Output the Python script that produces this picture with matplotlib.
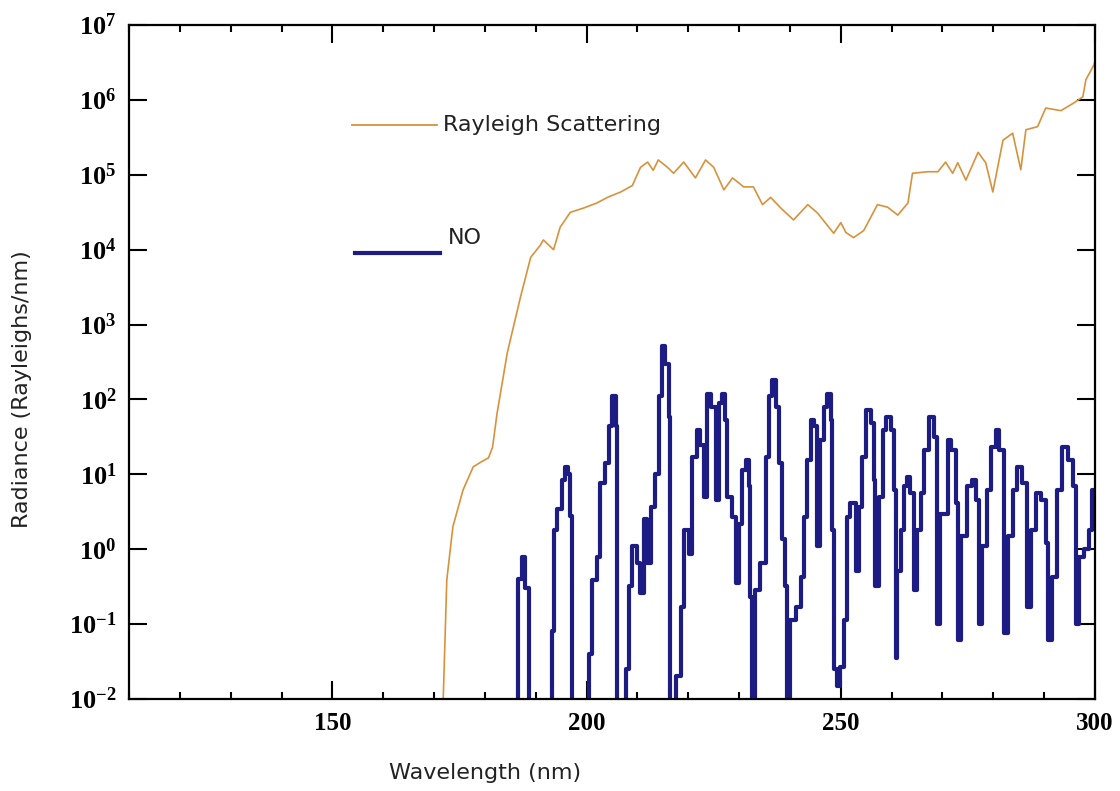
import matplotlib
matplotlib.use("Agg")
import matplotlib.pyplot as plt
from matplotlib.ticker import MultipleLocator, NullLocator

# Rayleigh scattering radiance (Rayleighs/nm)
rayleigh_wl = [171.5, 171.8, 172.5, 173.7, 175.7, 177.7, 179.5, 180.7, 181.5, 182.4,
               184.4, 187.0, 189.0, 190.9, 191.5, 193.5, 194.8, 196.8, 199.4, 202.0,
               204.1, 206.7, 209.0, 210.6, 212.0, 213.1, 214.1, 215.9, 217.1, 219.1,
               221.4, 223.4, 225.0, 227.0, 228.7, 230.9, 232.8, 234.6, 236.2, 238.2,
               240.7, 243.5, 245.4, 246.5, 248.6, 250.0, 251.0, 252.5, 254.5, 257.2,
               259.2, 261.2, 263.2, 264.1, 267.1, 269.1, 270.6, 272.0, 273.0, 274.6,
               277.0, 278.5, 279.9, 281.9, 283.8, 285.4, 286.4, 288.7, 290.3, 293.3,
               295.8, 297.6, 298.2, 299.8, 300.0]
rayleigh_rad = [1e-3, 0.01, 0.39, 2.0, 6.2, 12.6, 15, 16.6, 23, 66,
                420, 2340, 7900, 11500, 13500, 10000, 20000, 31600, 36000, 42000,
                50000, 59000, 72000, 126000, 148000, 115000, 158000, 126000, 105000, 148000,
                91000, 158000, 126000, 63000, 91000, 69000, 69000, 40000, 50000, 36000,
                25000, 40000, 31000, 25000, 16600, 23000, 17000, 14500, 18000, 40000,
                37000, 29000, 42000, 105000, 110000, 110000, 148000, 105000, 145000, 85000,
                200000, 145000, 59000, 290000, 360000, 117000, 400000, 440000, 780000, 720000,
                910000, 1100000, 1860000, 2950000, 3300000]

# NO emission radiance (Rayleighs/nm); 1e-3 marks values below the axis floor
no_wl = [186.0, 186.6, 187.2, 187.9, 188.6,
         193.2, 193.5, 194.2, 195.2, 195.8, 196.3, 196.8, 197.1,
         200.4, 201.1, 202.1, 202.7, 203.7, 204.4, 205.0, 205.7, 206.0,
         207.8, 208.3, 208.95, 209.9, 210.6, 211.2, 211.9, 212.6, 213.5, 214.2,
         214.9, 215.5, 216.2, 216.5,
         217.5, 218.5, 219.1, 220.1, 220.8, 221.7, 222.4, 223.1, 223.7, 224.4,
         225.4, 226.0, 226.7, 227.3, 227.6, 228.6, 229.3, 229.9, 230.6, 231.3,
         231.9, 232.2, 232.6, 233.2, 234.2, 235.2, 235.9, 236.5, 237.2, 237.8,
         238.5, 239.1, 239.5, 240.1, 241.1, 242.1, 242.7, 243.4, 244.1, 244.7,
         245.4, 246.0, 246.7, 247.3, 248.0, 248.3, 248.6, 249.3, 249.9, 250.6,
         251.3, 251.9, 252.9, 253.6, 254.2, 254.9, 255.9, 256.5, 256.8, 257.5,
         258.2, 258.8, 259.8, 260.5, 260.8, 261.1, 261.8, 262.4, 263.1, 263.7,
         264.4, 265.0, 265.7, 266.4, 267.3, 268.3, 269.0, 269.6, 271.0, 271.6,
         272.6, 273.1, 273.6, 274.9, 275.9, 276.5, 277.2, 277.8, 278.8, 279.5,
         280.5, 281.1, 282.1, 282.8, 283.8, 284.7, 285.7, 286.6, 287.4, 288.3,
         289.3, 290.3, 290.8, 291.6, 292.6, 293.6, 294.6, 295.6, 296.2, 296.9,
         297.9, 298.8, 299.5, 300.2]
no_rad = [1e-3, 0.4, 0.8, 0.3, 1e-3,
          0.08, 1.8, 3.4, 8.5, 12.6, 10, 2.8, 1e-3,
          0.04, 0.39, 0.8, 7.6, 14, 44, 110, 44, 1e-3,
          0.025, 0.32, 1.1, 0.65, 0.26, 2.5, 0.65, 3.7, 10, 110,
          510, 300, 59, 1e-3,
          0.02, 0.17, 1.8, 0.87, 17, 39, 25, 5, 120, 80,
          4.6, 89, 120, 54, 5, 2.7, 0.35, 2.2, 11.5, 15.5,
          6.9, 0.23, 1e-3, 0.29, 0.65, 17, 110, 180, 80, 14,
          1.35, 0.32, 1e-3, 0.115, 0.17, 0.43, 2.7, 15.5, 54, 44,
          1.1, 29, 80, 120, 54, 1.8, 0.025, 0.015, 0.027, 0.115,
          2.7, 4.1, 0.52, 3.7, 17, 72, 48, 8.5, 0.32, 5,
          39, 59, 39, 6.2, 0.035, 0.52, 1.8, 6.9, 9.3, 5.6,
          0.29, 1.8, 5.6, 21, 59, 32, 0.1, 3, 29, 21,
          4.1, 0.062, 1.5, 6.9, 8.5, 4.6, 0.1, 1.1, 6.2, 23,
          39, 21, 0.076, 1.5, 6.2, 12.6, 7.6, 0.17, 1.8, 5.6,
          4.6, 1.2, 0.062, 0.43, 6.2, 23, 15.5, 6.9, 0.1, 0.8,
          1.0, 1.8, 6.2, 1.8]

x_ticks = [150, 200, 250, 300]
x_tick_labels = ["150", "200", "250", "300"]
y_ticks = [1e-2, 1e-1, 1e0, 1e1, 1e2, 1e3, 1e4, 1e5, 1e6, 1e7]
y_tick_labels = [r"$10^{-2}$", r"$10^{-1}$", r"$10^{0}$", r"$10^{1}$", r"$10^{2}$",
                 r"$10^{3}$", r"$10^{4}$", r"$10^{5}$", r"$10^{6}$", r"$10^{7}$"]

plt.rcParams['mathtext.fontset'] = 'custom'
plt.rcParams['mathtext.rm'] = 'Liberation Serif:bold'
plt.rcParams['mathtext.it'] = 'Liberation Serif:bold'
plt.rcParams['mathtext.bf'] = 'Liberation Serif:bold'

fig = plt.figure(figsize=(11.2, 7.91), dpi=100)
ax = fig.add_axes([0.1152, 0.1163, 0.8625, 0.852])

ray_color = '#d8923c'
no_color = '#1c1c84'

ax.plot(rayleigh_wl, rayleigh_rad, color=ray_color, lw=1.2)
ax.step(no_wl, no_rad, where='post', color=no_color, lw=3)

ax.set_yscale('log')
ax.set_xlim(110, 300)
ax.set_ylim(1e-2, 1e7)

ax.set_xticks(x_ticks)
ax.set_xticklabels(x_tick_labels, fontfamily='Liberation Serif', fontweight='bold', fontsize=18)
ax.xaxis.set_minor_locator(MultipleLocator(10))
ax.set_yticks(y_ticks)
ax.set_yticklabels(y_tick_labels, fontsize=19)
ax.yaxis.set_minor_locator(NullLocator())

ax.tick_params(which='both', direction='in', top=True, right=True, width=1.5)
ax.tick_params(which='major', length=13)
ax.tick_params(which='minor', length=5)
ax.tick_params(axis='y', pad=9)
ax.tick_params(axis='x', pad=9)
for sp in ax.spines.values():
    sp.set_linewidth(1.6)

ax.set_xlabel("Wavelength (nm)", fontsize=16, fontfamily='DejaVu Sans', color='#222222')
ax.xaxis.set_label_coords(0.369, -0.095)
ax.set_ylabel("Radiance (Rayleighs/nm)", fontsize=16, fontfamily='DejaVu Sans', color='#222222')
ax.yaxis.set_label_coords(-0.1, 0.46)

# hand-placed legend, as in the original figure
ax.plot([0.231, 0.319], [0.852, 0.852], transform=ax.transAxes, color=ray_color, lw=1.3)
ax.text(0.325, 0.852, "Rayleigh Scattering", transform=ax.transAxes, fontsize=16,
        va='center', ha='left', color='#222222')
ax.plot([0.234, 0.322], [0.662, 0.662], transform=ax.transAxes, color=no_color, lw=3)
ax.text(0.33, 0.684, "NO", transform=ax.transAxes, fontsize=16,
        va='center', ha='left', color='#222222')

fig.savefig("out.png", dpi=100)
